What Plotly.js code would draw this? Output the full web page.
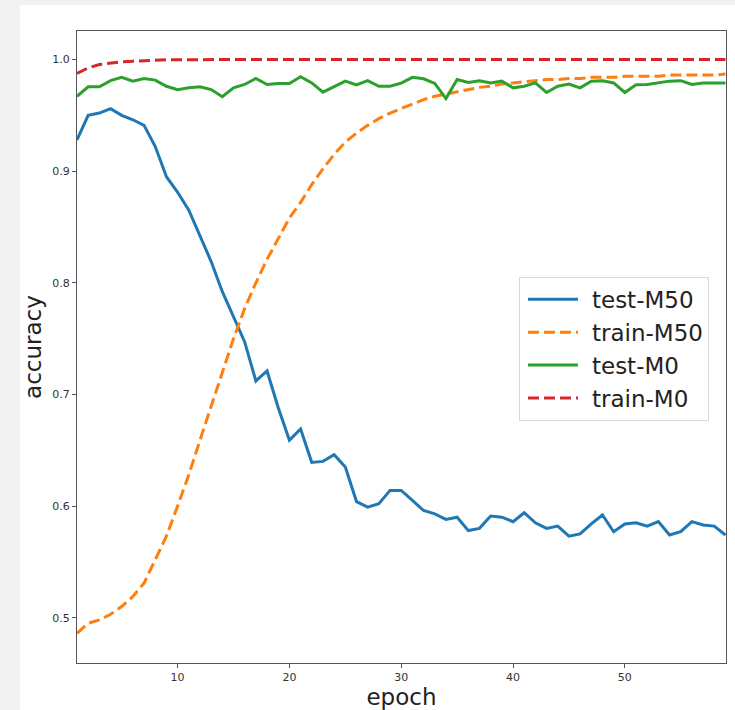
<!DOCTYPE html>
<html>
<head>
<meta charset="utf-8">
<script src="https://cdn.plot.ly/plotly-3.0.1.min.js"></script>
<style>
html,body{margin:0;padding:0;background:#f2f2f2;width:735px;height:710px;overflow:hidden;}
#chart{position:absolute;left:20px;top:5px;width:715px;height:705px;}
</style>
</head>
<body>
<div id="chart"></div>
<script>
const epochs = Array.from({length: 59}, (_, i) => i + 1);

const testM50 = [0.928,0.950,0.952,0.956,0.950,0.946,0.941,0.922,0.895,0.881,
  0.865,0.842,0.819,0.792,0.769,0.747,0.712,0.721,0.688,0.659,
  0.669,0.639,0.640,0.646,0.635,0.604,0.599,0.602,0.614,0.614,
  0.605,0.596,0.593,0.588,0.590,0.578,0.580,0.591,0.590,0.586,
  0.594,0.585,0.580,0.582,0.573,0.575,0.584,0.592,0.577,0.584,
  0.585,0.582,0.586,0.574,0.577,0.586,0.583,0.582,0.574];

const trainM50 = [0.486,0.495,0.498,0.503,0.510,0.519,0.531,0.552,0.573,0.600,
  0.628,0.659,0.690,0.720,0.750,0.777,0.800,0.821,0.840,0.858,
  0.872,0.888,0.902,0.915,0.926,0.934,0.941,0.947,0.952,0.956,
  0.960,0.964,0.967,0.969,0.971,0.973,0.975,0.976,0.978,0.979,
  0.980,0.981,0.982,0.982,0.983,0.983,0.984,0.984,0.984,0.985,
  0.985,0.985,0.985,0.986,0.986,0.986,0.986,0.986,0.987];

const testM0 = [0.967,0.9755,0.9755,0.981,0.984,0.9806,0.983,0.9815,0.976,0.973,
  0.9746,0.9755,0.973,0.9666,0.9746,0.9776,0.983,0.9776,0.9785,0.9785,
  0.9845,0.979,0.9707,0.9755,0.9806,0.9773,0.981,0.976,0.976,0.9788,
  0.984,0.9827,0.9785,0.965,0.982,0.9794,0.981,0.979,0.9806,0.9746,
  0.976,0.979,0.9704,0.976,0.978,0.9746,0.9806,0.981,0.979,0.9704,
  0.9773,0.9776,0.979,0.9806,0.981,0.9776,0.979,0.979,0.979];

const trainM0 = [0.9875,0.9925,0.9955,0.997,0.998,0.9985,0.999,0.9995,0.9997,0.9998,
  0.9999,0.9999,1.0,1.0,1.0,1.0,1.0,1.0,1.0,1.0,
  1.0,1.0,1.0,1.0,1.0,1.0,1.0,1.0,1.0,1.0,
  1.0,1.0,1.0,1.0,1.0,1.0,1.0,1.0,1.0,1.0,
  1.0,1.0,1.0,1.0,1.0,1.0,1.0,1.0,1.0,1.0,
  1.0,1.0,1.0,1.0,1.0,1.0,1.0,1.0,1.0];

const seriesNames = ["test-M50", "train-M50", "test-M0", "train-M0"];
const xTicks = [10, 20, 30, 40, 50];
const yTicks = [0.5, 0.6, 0.7, 0.8, 0.9, 1.0];

const dashed = "11px,5px";
const traces = [
  {x: epochs, y: testM50, name: seriesNames[0], mode: "lines", line: {color: "#1f77b4", width: 3}},
  {x: epochs, y: trainM50, name: seriesNames[1], mode: "lines", line: {color: "#ff7f0e", width: 3, dash: dashed}},
  {x: epochs, y: testM0, name: seriesNames[2], mode: "lines", line: {color: "#2ca02c", width: 3}},
  {x: epochs, y: trainM0, name: seriesNames[3], mode: "lines", line: {color: "#d62728", width: 3, dash: dashed}}
];

const axisCommon = {
  showgrid: false, zeroline: false, showline: true, mirror: true,
  linecolor: "#555", linewidth: 1, ticks: "outside", ticklen: 4, tickwidth: 1, tickcolor: "#555",
  tickfont: {family: "DejaVu Sans", size: 11, color: "#333"}
};

const layout = {
  width: 715, height: 705,
  margin: {l: 57, r: 9, t: 26, b: 47},
  paper_bgcolor: "#ffffff", plot_bgcolor: "#ffffff",
  showlegend: true,
  legend: {
    x: 0.681, y: 0.611, xanchor: "left", yanchor: "top",
    itemwidth: 62,
    bgcolor: "rgba(255,255,255,0.9)", bordercolor: "#d8d8d8", borderwidth: 1,
    font: {family: "DejaVu Sans", size: 23, color: "#222"}
  },
  xaxis: Object.assign({}, axisCommon, {
    range: [1, 59.05], tickvals: xTicks, ticktext: xTicks.map(String),
    title: {text: "epoch", font: {family: "DejaVu Sans", size: 23, color: "#222"}, standoff: 5}
  }),
  yaxis: Object.assign({}, axisCommon, {
    range: [0.4594, 1.0255], tickvals: yTicks, ticktext: yTicks.map(v => v.toFixed(1)),
    title: {text: "accuracy", font: {family: "DejaVu Sans", size: 23, color: "#222"}, standoff: 8}
  })
};

Plotly.newPlot("chart", traces, layout, {displayModeBar: false, staticPlot: true}).then(function (gd) {
  // lengthen the legend line samples to match the reference legend
  gd.querySelectorAll(".legend .legendlines path").forEach(function (p) {
    p.setAttribute("d", "M8,0h50");
  });
});
</script>
</body>
</html>
